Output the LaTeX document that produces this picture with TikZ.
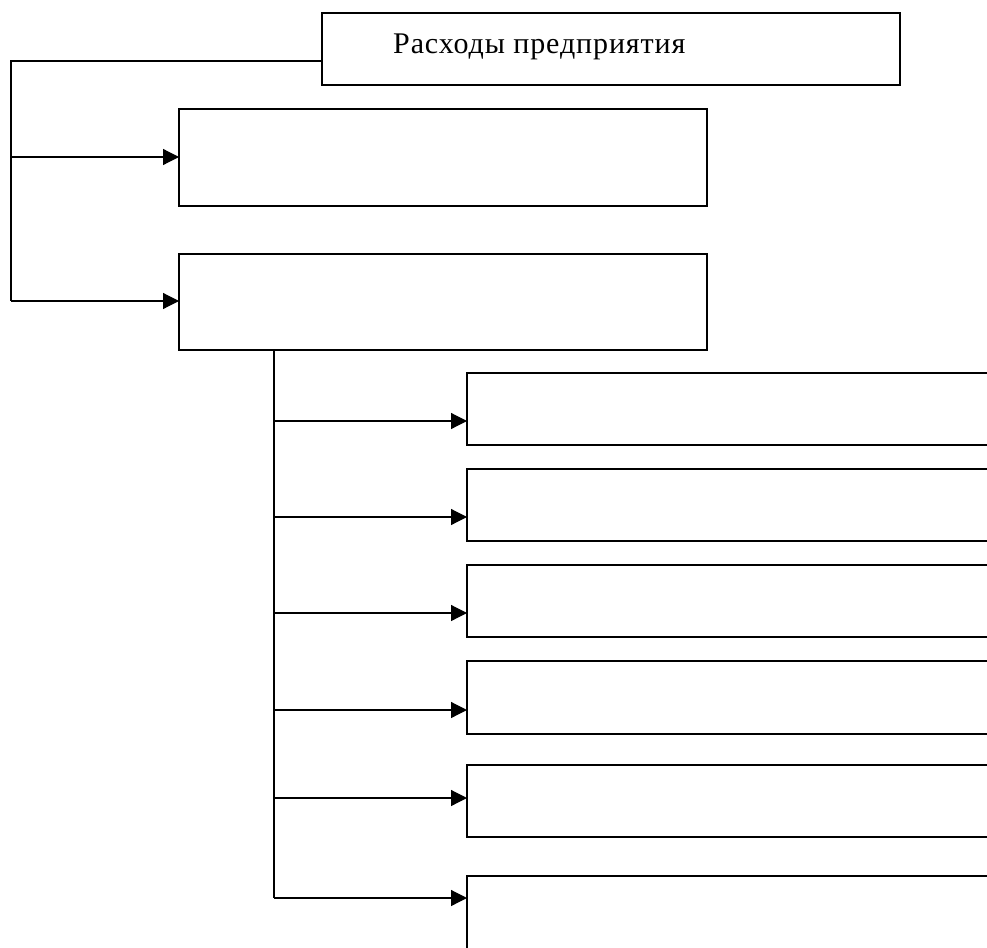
\documentclass[tikz,border=0pt]{standalone}
\usepackage{fontspec}
\setmainfont{Liberation Serif}
\usetikzlibrary{arrows.meta}
\begin{document}
\begin{tikzpicture}[x=1pt,y=-1pt,
  box/.style={draw,line width=1.4pt},
  link/.style={line width=1.2pt},
  arr/.style={link,-{Triangle[length=16pt,width=16pt]}}]
\useasboundingbox (0,0) rectangle (987,947);
\begin{scope}
\clip (0,0) rectangle (987,947);
% top box
\draw[box] (322,13) rectangle (900,85);
\coordinate (top) at (322,61);
\node[anchor=base west,inner sep=0pt,font=\fontsize{30}{36}\selectfont\addfontfeature{LetterSpace=3}] (title) at (393,54) {Расходы предприятия};
% level 1 boxes
\draw[box] (179,109) rectangle (707,206);
\coordinate (b1) at (179,157);
\draw[box] (179,254) rectangle (707,350);
\coordinate (b2) at (179,301);
\coordinate (b2s) at (274,350);
% right boxes
\foreach \t/\b/\m/\n in {373/445/421/r1, 469/541/517/r2, 565/637/613/r3, 661/734/710/r4, 765/837/798/r5, 876/1000/898/r6}{
  \draw[box] (1020,\t) -- (467,\t) -- (467,\b) -- (1020,\b);
  \coordinate (\n) at (467,\m);
}
\coordinate (c0) at (11,61);
\coordinate (c1) at (11,157);
\coordinate (c2) at (11,301);
\draw[link] (top) -- (c0) -- (c2);
\draw[arr] (c1) -- (b1);
\draw[arr] (c2) -- (b2);
\coordinate (v6) at (274,898);
\draw[link] (b2s) -- (v6);
\foreach \n in {r1,r2,r3,r4,r5}{
  \draw[arr] (274,0 |- \n) -- (\n);
}
\draw[arr] (v6) -- (r6);
\end{scope}
\end{tikzpicture}
\end{document}
